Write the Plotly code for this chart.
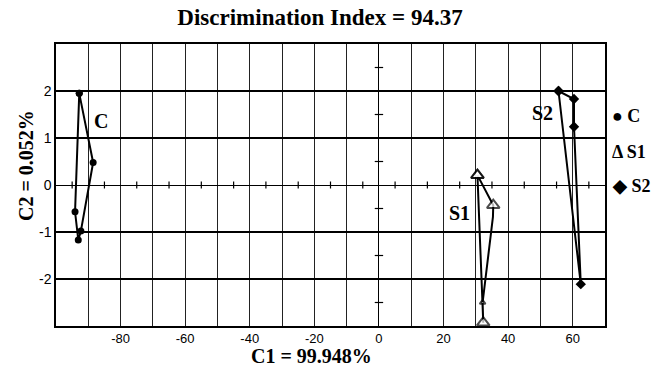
import plotly.graph_objects as go

# ---- data ----
c_x = [-92.8, -88.5, -92.3, -93.1, -94.1, -92.8]
c_y = [1.95, 0.48, -0.98, -1.17, -0.57, 1.95]

s1_x = [30.5, 35.4, 35.3, 32.1, 32.3, 30.5]
s1_y = [0.21, -0.43, -0.68, -2.50, -2.93, 0.21]

s2_x = [55.6, 60.4, 60.4, 62.5, 55.6]
s2_y = [2.00, 1.83, 1.24, -2.11, 2.00]

x_tickvals = [-100, -90, -80, -70, -60, -50, -40, -30, -20, -10, 0, 10, 20, 30, 40, 50, 60, 70]
x_ticktext = ["", "", "-80", "", "-60", "", "-40", "", "-20", "", "0", "", "20", "", "40", "", "60", ""]
y_tickvals = [-3, -2, -1, 0, 1, 2, 3]
y_ticktext = ["", "-2", "-1", "0", "1", "2", ""]

# small cross ticks drawn on the zero lines
zero_xticks = [-95, -85, -75, -65, -55, -45, -35, -25, -15, -5, 5, 15, 25, 35, 45, 55, 65]
zero_yticks = [-2.5, -1.5, -0.5, 0.5, 1.5, 2.5]

title_text = "Discrimination Index = 94.37"
x_title = "C1 = 99.948%"
y_title = "C2 = 0.052%"
legend_items = ["\u25CF C", "\u0394 S1", "\u25C6 S2"]

# ---- layout geometry ----
W, H = 655, 372
L, R, T, B = 56, 605, 44, 326

def px(x):
    return (x - L) / (R - L)

def py(y):
    return (B - y) / (B - T)

SERIF = "Liberation Serif, Times New Roman, serif"
SANS = "Liberation Sans Narrow, Liberation Sans, Arial, sans-serif"

fig = go.Figure()

# zero-line cross ticks
fig.add_trace(go.Scatter(
    x=zero_xticks, y=[0] * len(zero_xticks), mode="markers",
    marker=dict(symbol="line-ns", size=5, line=dict(color="black", width=1.2)),
    hoverinfo="skip", showlegend=False))
fig.add_trace(go.Scatter(
    x=[0] * len(zero_yticks), y=zero_yticks, mode="markers",
    marker=dict(symbol="line-ew", size=6, line=dict(color="black", width=1.2)),
    hoverinfo="skip", showlegend=False))

fig.add_trace(go.Scatter(
    x=c_x, y=c_y, mode="lines+markers", name="C",
    line=dict(color="black", width=2),
    marker=dict(symbol="circle", size=7, color="black"),
    showlegend=False))

fig.add_trace(go.Scatter(
    x=s1_x, y=s1_y, mode="lines+markers", name="S1",
    line=dict(color="black", width=2),
    marker=dict(symbol="triangle-up", size=[11, 11, 0, 5, 11, 11],
                color="white", line=dict(color="black", width=2)),
    showlegend=False))

fig.add_trace(go.Scatter(
    x=s2_x, y=s2_y, mode="lines+markers", name="S2",
    line=dict(color="black", width=2),
    marker=dict(symbol="diamond", size=8, color="black"),
    showlegend=False))

annotations = [
    dict(x=px(311), y=py(356), text="<b>" + x_title + "</b>"),
    dict(x=px(26), y=py(166), text="<b>" + y_title + "</b>", textangle=-90),
    dict(x=px(101), y=py(121), text="<b>C</b>"),
    dict(x=px(459), y=py(213), text="<b>S1</b>"),
    dict(x=px(542), y=py(113), text="<b>S2</b>"),
]
for a in annotations:
    a.update(xref="paper", yref="paper", showarrow=False,
             xanchor="center", yanchor="middle",
             font=dict(family=SERIF, size=20, color="black"))
leg_y = [116, 152, 186]
for txt, yy in zip(legend_items, leg_y):
    annotations.append(dict(
        x=px(610), y=py(yy), text="<b>" + txt + "</b>",
        xref="paper", yref="paper", showarrow=False,
        xanchor="left", yanchor="middle",
        font=dict(family=SERIF, size=18, color="black")))

fig.update_layout(
    width=W, height=H,
    margin=dict(l=L, r=W - R, t=T, b=H - B, pad=0),
    paper_bgcolor="white", plot_bgcolor="white",
    title=dict(text="<b>" + title_text + "</b>", x=320 / W, y=1 - 17 / H,
               xanchor="center", yanchor="middle",
               font=dict(family=SERIF, size=23, color="black")),
    xaxis=dict(range=[-100, 70], tickmode="array", tickvals=x_tickvals,
               ticktext=x_ticktext, showgrid=True, gridcolor="#222",
               gridwidth=1.2, zeroline=True, zerolinecolor="black",
               zerolinewidth=1.2, showline=True, mirror=True,
               linecolor="black", linewidth=1.5, ticks="",
               tickfont=dict(family=SANS, size=13, color="black"),
               fixedrange=True),
    yaxis=dict(range=[-3, 3], tickmode="array", tickvals=y_tickvals,
               ticktext=y_ticktext, showgrid=True, gridcolor="black",
               gridwidth=1.6, zeroline=True, zerolinecolor="black",
               zerolinewidth=1.2, showline=True, mirror=True,
               linecolor="black", linewidth=1.5, ticks="",
               tickfont=dict(family=SANS, size=14, color="black"),
               fixedrange=True),
    annotations=annotations,
    showlegend=False,
)

fig.write_html("out.html", config={"displayModeBar": False},
               post_script="document.body.style.margin='0';document.body.style.overflow='hidden';")
